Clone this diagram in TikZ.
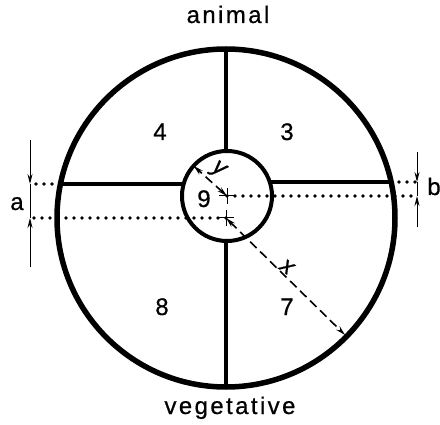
\documentclass[tikz,border=0pt]{standalone}
\usepackage{fontspec}
\setmainfont{Liberation Sans}[FakeBold=0.6]
\newfontfamily\wordfont{Liberation Sans}[LetterSpace=10,FakeBold=0.6]
\usetikzlibrary{arrows.meta}
\tikzset{
  rim/.style={line width=5.5pt},
  wall/.style={line width=4pt},
  dots/.style={line width=3.6pt, line cap=round, dash pattern=on 0pt off 8pt},
  rad/.style={line width=1.6pt, dash pattern=on 9pt off 5pt, <->},
  dim/.style={line width=1pt},
  lbl/.style={font=\fontsize{24}{28}\selectfont, inner sep=0pt, anchor=base},
  >={Stealth[length=10pt,width=5pt]},
}
\newcommand{\centremark}[1]{%
  \draw[dim] (#1) ++(-8,0) -- ++(16,0);
  \draw[dim] (#1) ++(0,-8) -- ++(0,16);
}

\begin{document}
\begin{tikzpicture}[x=1pt,y=1pt]
  \useasboundingbox (0,0) rectangle (440,424);
  \coordinate (O) at (226,206);
  \coordinate (S) at (227,228);
  % walls between the blastomeres
  \draw[wall] (60.5,240) -- (227,240);
  \draw[wall] (227,242) -- (391.1,242);
  \draw[wall] (226,37) -- (226,375);
  \draw[rim] (O) circle (169pt);
  \draw[wall, fill=white] (S) circle (45pt);
  % reference levels
  \draw[dots] (S) -- (417,228);
  \draw[dots] (O) -- (30,206);
  \draw[dots] (60,240) -- (30,240);
  \draw[dots] (391,242) -- (417,242);
  \centremark{S}
  \centremark{O}
  % radii
  \path (S) ++(138:45) coordinate (Sy);
  \path (O) ++(-44.5:167) coordinate (Ox);
  \draw[rad] (S) -- (Sy);
  \draw[rad] (O) -- (Ox);
  \node[rotate=-35, font=\fontsize{24}{28}\selectfont\itshape] (ylab) at (218,254) {y};
  \node[rotate=-35, font=\fontsize{24}{28}\selectfont\itshape] (xlab) at (287,157) {x};
  % offsets a and b
  \coordinate (aT) at (30,284);
  \coordinate (aU) at (30,240);
  \coordinate (aL) at (30,206);
  \coordinate (aB) at (30,157);
  \draw[dim,->] (aT) -- (aU);
  \draw[dim] (aU) -- (aL);
  \draw[dim,->] (aB) -- (aL);
  \coordinate (bT) at (417,272);
  \coordinate (bU) at (417,242);
  \coordinate (bL) at (417,228);
  \coordinate (bB) at (417,197);
  \draw[dim,->] (bT) -- (bU);
  \draw[dim] (bU) -- (bL);
  \draw[dim,->] (bB) -- (bL);
  \node[lbl] (alab) at (17,214) {a};
  \node[lbl] (blab) at (434,229) {b};
  % cells and poles
  \node[lbl] (c4) at (160,284) {4};
  \node[lbl] (c3) at (287,284) {3};
  \node[lbl] (c8) at (162,109) {8};
  \node[lbl] (c7) at (287,109) {7};
  \node[lbl] (c9) at (204,217) {9};
  \node[lbl] (animal) at (228,401) {\wordfont animal};
  \node[lbl] (veget) at (230,10) {\wordfont vegetative};
\end{tikzpicture}
\end{document}
